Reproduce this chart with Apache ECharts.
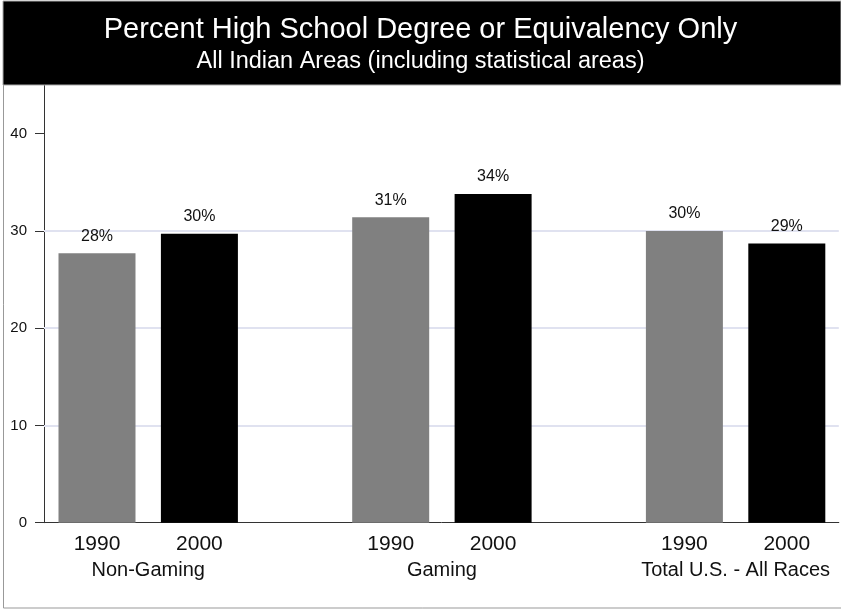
<!DOCTYPE html>
<html>
<head>
<meta charset="utf-8">
<script src="https://cdn.jsdelivr.net/npm/echarts@6/dist/echarts.min.js"></script>
<style>html,body{margin:0;padding:0;background:#fff}#c{width:841px;height:611px}</style>
</head>
<body>
<div id="c"></div>
<script>
const titleText = 'Percent High School Degree or Equivalency Only';
const subtitleText = 'All Indian Areas (including statistical areas)';
const groups = ['Non-Gaming', 'Gaming', 'Total U.S. - All Races'];
const years = ['1990', '2000'];
const values1990 = [27.7, 31.4, 30.0];
const values2000 = [29.7, 33.8, 28.7];
const yTicks = [0, 10, 20, 30, 40];
const gridValues = [10, 20, 30];

const FONT = '"Liberation Sans", Arial, sans-serif';
const chart = echarts.init(document.getElementById('c'), null, {renderer: 'canvas'});

function barSeries(name, vals, color) {
  return {
    name: name,
    type: 'bar',
    z: 3,
    barWidth: 77,
    barGap: '33%',
    clip: false,
    data: vals.map((v, i) => [i, v]),
    itemStyle: {color: color},
    label: {
      show: true,
      position: 'top',
      distance: 9,
      color: '#111',
      fontFamily: FONT,
      fontSize: 16,
      formatter: p => Math.round(p.value[1]) + '%'
    }
  };
}

chart.setOption({
  animation: false,
  backgroundColor: '#fff',
  graphic: [
    {type: 'rect', z: 0, shape: {x: 3.5, y: 1.5, width: 845, height: 606.5},
     style: {fill: 'none', stroke: '#999', lineWidth: 1}},
    {type: 'rect', z: 1, shape: {x: 3, y: 1, width: 838, height: 84},
     style: {fill: '#000', stroke: '#aaa', lineWidth: 1}},
    {type: 'text', z: 2, x: 420.5, y: 29.5,
     style: {text: titleText, fill: '#fff', font: '29px ' + FONT, textAlign: 'center', textVerticalAlign: 'middle'}},
    {type: 'text', z: 2, x: 420.5, y: 62,
     style: {text: subtitleText, fill: '#fff', font: '23.5px ' + FONT, textAlign: 'center', textVerticalAlign: 'middle'}}
  ],
  grid: {left: 44, right: 0, top: 85, bottom: 88.3, containLabel: false},
  xAxis: {
    type: 'value',
    min: -0.3548,
    max: 2.3514,
    axisLine: {show: true, onZero: false, lineStyle: {color: '#333', width: 1}},
    axisTick: {show: false},
    splitLine: {show: false},
    axisLabel: {
      customValues: [0, 1, 2],
      margin: 8,
      color: '#111',
      fontFamily: FONT,
      formatter: v => '{y|' + years[0] + '}{y|' + years[1] + '}\n{g|' + groups[Math.round(v)] + '}',
      rich: {
        y: {width: 102.4, align: 'center', fontSize: 21, lineHeight: 27, fontFamily: FONT, color: '#111'},
        g: {align: 'center', fontSize: 20, lineHeight: 26, fontFamily: FONT, color: '#111'}
      }
    }
  },
  yAxis: {
    type: 'value',
    min: 0,
    max: 45,
    interval: 10,
    axisLine: {show: true, onZero: false, lineStyle: {color: '#333', width: 1}},
    axisTick: {show: true, customValues: yTicks, length: 9, lineStyle: {color: '#333'}},
    splitLine: {show: false},
    axisLabel: {customValues: yTicks, margin: 17, color: '#111', fontFamily: FONT, fontSize: 15}
  },
  series: [
    {
      type: 'line', z: 1, data: [], silent: true,
      markLine: {
        z: 1,
        silent: true, symbol: 'none', animation: false,
        label: {show: false},
        lineStyle: {color: '#e0e2f0', width: 2, type: 'solid'},
        data: gridValues.map(v => ({yAxis: v}))
      }
    },
    barSeries(years[0], values1990, '#808080'),
    barSeries(years[1], values2000, '#000000')
  ]
});
</script>
</body>
</html>
